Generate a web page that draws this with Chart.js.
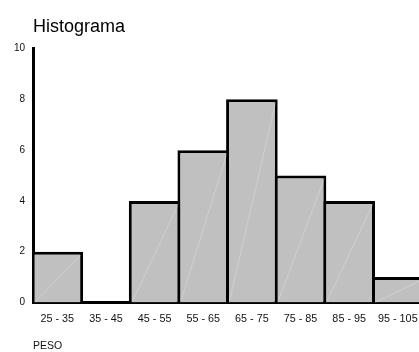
<!DOCTYPE html>
<html>
<head>
<meta charset="utf-8">
<script src="https://cdn.jsdelivr.net/npm/chart.js@4.4.1/dist/chart.umd.min.js"></script>
<style>
  html, body { margin: 0; padding: 0; background: #fff; overflow: hidden; }
  #wrap { width: 419px; height: 352px; overflow: hidden; }
  canvas { display: block; }
</style>
</head>
<body>
<div id="wrap"><canvas id="hist" width="428" height="352"></canvas></div>
<script>
// Weight classes (PESO) and how many cases fall in each
const classes = ['25 - 35', '35 - 45', '45 - 55', '55 - 65', '65 - 75', '75 - 85', '85 - 95', '95 - 105'];
const counts = [2, 0, 4, 6, 8, 5, 4, 1];
const yTicks = [0, 2, 4, 6, 8, 10];

const FONT = '"Liberation Sans", Arial, sans-serif';

// faint seam running from the bottom-left to the top-right corner of each bar
const seamPlugin = {
  id: 'seam',
  afterDatasetsDraw(chart) {
    const ctx = chart.ctx;
    const meta = chart.getDatasetMeta(0);
    ctx.save();
    ctx.strokeStyle = 'rgba(255,255,255,0.3)';
    ctx.lineWidth = 0.8;
    meta.data.forEach((bar) => {
      const p = bar.getProps(['x', 'y', 'base', 'width'], true);
      if (Math.abs(p.base - p.y) < 4) return;
      const l = p.x - p.width / 2 + 3;
      const r = p.x + p.width / 2 - 2;
      ctx.beginPath();
      ctx.moveTo(l, p.base);
      ctx.lineTo(r, p.y + 3);
      ctx.stroke();
    });
    ctx.restore();
  }
};

new Chart(document.getElementById('hist'), {
  type: 'bar',
  data: {
    labels: classes,
    datasets: [{
      data: counts,
      backgroundColor: '#c0c0c0',
      borderColor: '#000',
      borderWidth: 3,
      borderSkipped: 'start',
      categoryPercentage: 1,
      barPercentage: 1.061
    }]
  },
  options: {
    responsive: false,
    animation: false,
    layout: { padding: { left: 0, right: 0, top: 0, bottom: 0 } },
    plugins: {
      legend: { display: false },
      tooltip: { enabled: false },
      title: {
        display: true,
        text: 'Histograma',
        align: 'start',
        fullSize: false,
        color: '#000',
        font: { family: FONT, size: 18, weight: 'normal' },
        padding: { top: 16, bottom: 11 }
      }
    },
    scales: {
      x: {
        z: 1,
        grid: { display: false, drawTicks: false },
        border: { display: true, color: '#000', width: 3 },
        ticks: {
          color: '#111',
          padding: 10,
          maxRotation: 0,
          autoSkip: false,
          font: { family: FONT, size: 10.8 }
        },
        title: {
          display: true,
          text: 'PESO',
          align: 'start',
          color: '#111',
          font: { family: FONT, size: 10.5 },
          padding: { top: 4, bottom: 0 }
        }
      },
      y: {
        min: 0,
        max: 10,
        afterFit(scale) { scale.width = 33; },
        afterBuildTicks(scale) { scale.ticks = yTicks.map(v => ({ value: v })); },
        grid: { display: false, drawTicks: false },
        border: { display: true, color: '#000', width: 3 },
        ticks: {
          color: '#111',
          padding: 8,
          font: { family: FONT, size: 10 }
        }
      }
    }
  },
  plugins: [seamPlugin]
});
</script>
</body>
</html>
